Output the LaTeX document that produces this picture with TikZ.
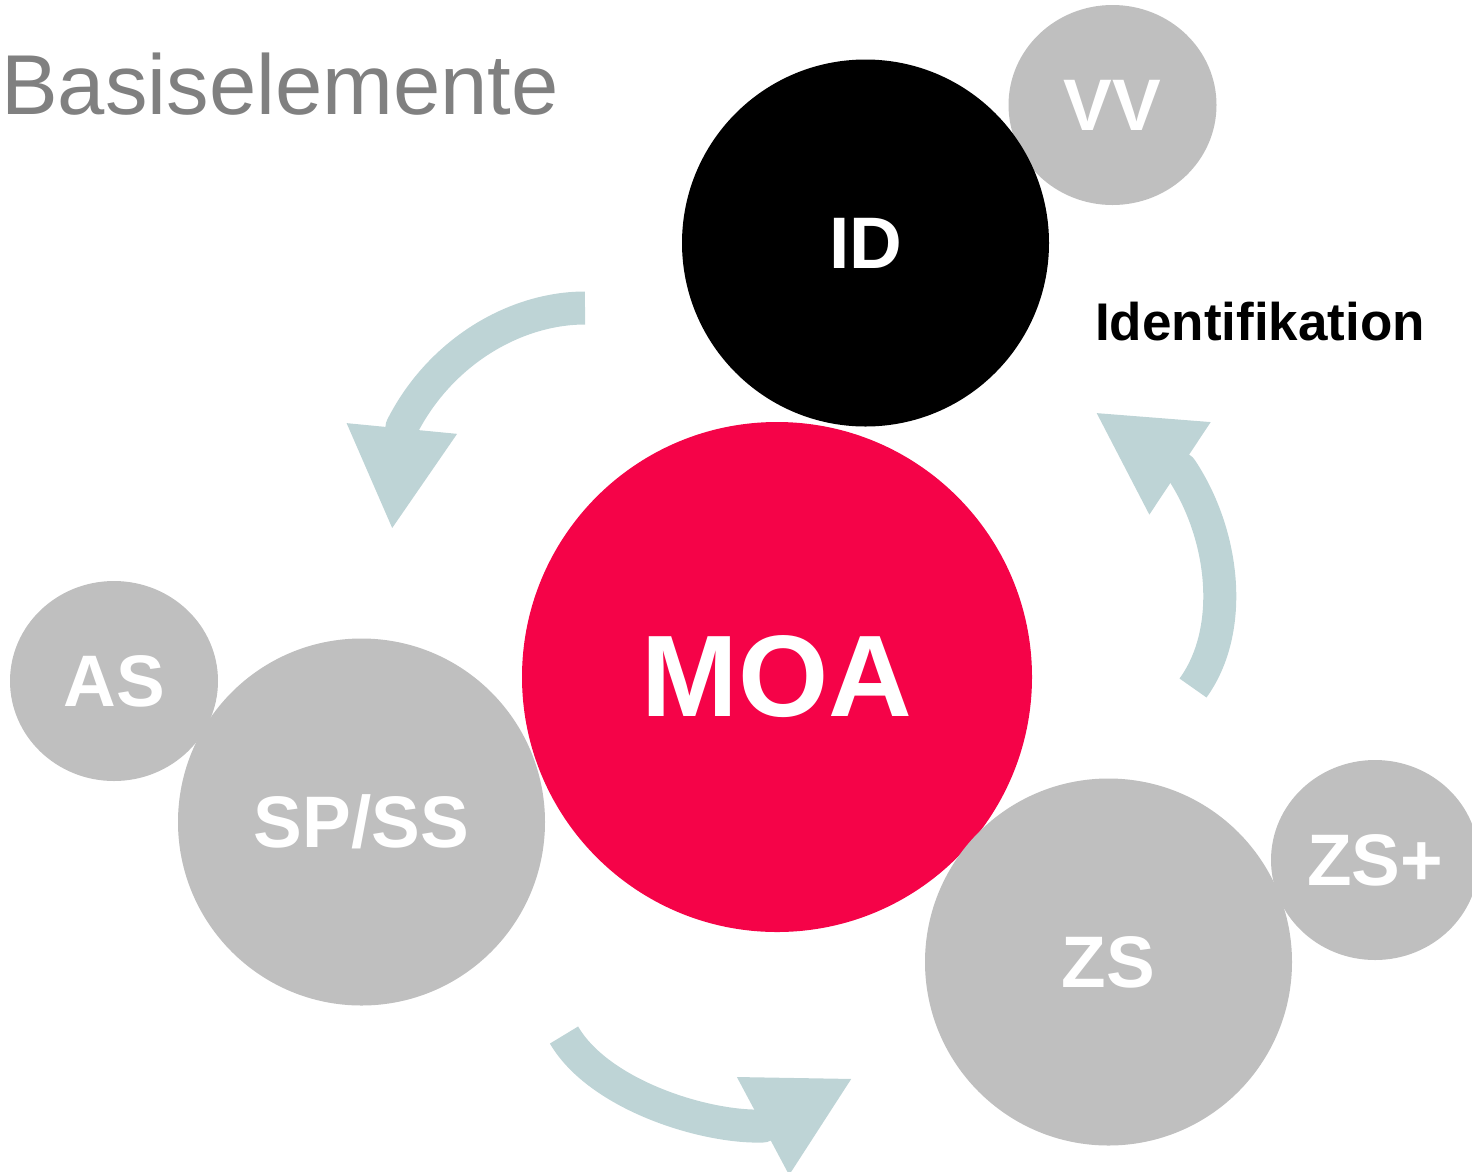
\documentclass[tikz,border=0pt]{standalone}
\usepackage{fontspec}
\setmainfont{Liberation Sans}
\usepackage{tikz}
\usetikzlibrary{arrows.meta}
\usetikzlibrary{shapes.geometric}

\definecolor{moared}{RGB}{245,3,72}
\definecolor{bubblegray}{RGB}{191,191,191}
\definecolor{flowblue}{RGB}{190,212,214}
\definecolor{titlegray}{RGB}{128,128,128}

\begin{document}
\begin{tikzpicture} [x=1pt, y=-1pt,
            every node/.style={inner sep=0pt, text=white, font=\bfseries\fontsize{73}{80}\selectfont},
            bubble/.style={circle, fill=bubblegray, minimum size=367pt},
            satellite/.style={ellipse, fill=bubblegray, minimum width=208pt, minimum height=200pt},
            flow/.style={draw=flowblue, line width=33pt, line join=round, -{Triangle[width=103pt,length=102pt]}}]
            \useasboundingbox (0,0) rectangle (1472,1171);

            \node[anchor=base west, text=titlegray, font=\fontsize{85}{100}\selectfont] (title) at (1, 114) {Basiselemente};

            \node[satellite] (vv)   at (1112.5, 105)  {VV};
            \node[circle, fill=black, minimum size=367pt] (id) at (865.5, 243) {ID};
            \node[anchor=base, text=black, font=\bfseries\fontsize{53}{60}\selectfont] (idname) at (1260, 340) {Identifikation};
            \node[circle, fill=moared, minimum size=510pt, font=\bfseries\fontsize{116}{120}\selectfont] (moa) at (777, 677) {MOA};
            \node[satellite] (as)   at (114, 681)     {AS};
            \node[bubble]    (spss) at (361.5, 822)   {SP/SS};
            \node[satellite] (zsp)  at (1375, 860)    {ZS+};
            \node[bubble]    (zs)   at (1108.5, 962)  {ZS};

            \coordinate (f1s) at (585, 308);
            \coordinate (f1b) at (402, 427);
            \coordinate (f1t) at (392, 530);
            \coordinate (f2s) at (1193, 688);
            \coordinate (f2b) at (1181, 469);
            \coordinate (f2t) at (1095, 412);
            \coordinate (f3s) at (564, 1035);
            \coordinate (f3b) at (763, 1126);
            \coordinate (f3t) at (853, 1078);

            \draw[flow] (f1s) .. controls (515, 308) and (440, 352) .. (f1b) -- (f1t);
            \draw[flow] (f2s) .. controls (1235, 630) and (1225, 535) .. (f2b) -- (f2t);
            \draw[flow] (f3s) .. controls (599, 1095) and (705, 1128) .. (f3b) -- (f3t);
        \end{tikzpicture}
\end{document}
